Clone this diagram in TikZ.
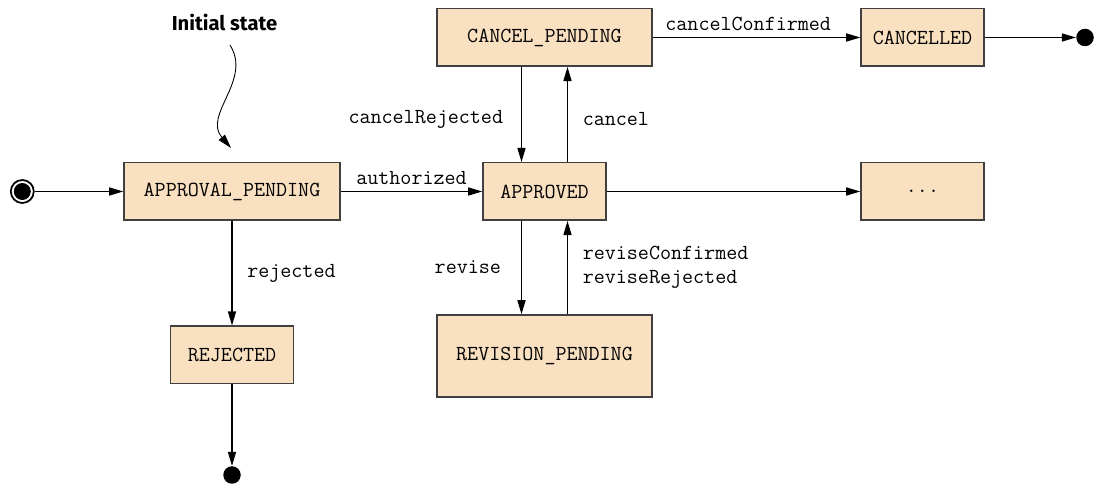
\documentclass[tikz,border=0pt]{standalone}
\usepackage{fontspec}
\usepackage{tikz}
\usetikzlibrary{arrows.meta}
\newfontfamily\notefont{Fira Sans}
\definecolor{statefill}{RGB}{249,224,192}
\definecolor{stateline}{RGB}{64,64,64}

\begin{document}
\begin{tikzpicture}[scale=1.0, font=\ttfamily\fontsize{12.2}{13.7}\selectfont,
    state/.style={draw=stateline, fill=statefill, line width=0.85pt,
      minimum height=1.15cm, inner sep=0pt},
    trans/.style={-{Triangle[length=8pt,width=4.6pt]}, line width=0.7pt},
    final/.style={circle, fill=black, minimum size=0.35cm, inner sep=0pt}]
  \useasboundingbox (0,0) rectangle (21.9,9.7);

  % pseudo states
  \node[circle, draw, line width=1pt, minimum size=0.46cm, inner sep=0pt] (start) at (0.446,5.87) {};
  \fill (start.center) circle (0.17);
  \node[final] (endrej) at (4.64,0.2) {};
  \node[final] (endcan) at (21.7,8.95) {};

  % states
  \node[state, minimum width=4.32cm] (apppend) at (4.64,5.87) {APPROVAL\_PENDING};
  \node[state, minimum width=2.46cm] (rejected) at (4.64,2.6) {REJECTED};
  \node[state, minimum width=2.46cm] (approved) at (10.89,5.87) {APPROVED};
  \node[state, minimum width=4.30cm] (cancelpend) at (10.89,8.95) {CANCEL\_PENDING};
  \node[state, minimum width=4.30cm, minimum height=1.64cm] (revpend) at (10.89,2.58) {REVISION\_PENDING};
  \node[state, minimum width=2.46cm] (cancelled) at (18.45,8.95) {CANCELLED};
  \node[state, minimum width=2.46cm] (more) at (18.45,5.87) {...};

  % transitions
  \draw[trans] (start) -- (apppend);
  \draw[trans] (apppend) -- node[above] {authorized} (approved);
  \draw[trans] (apppend) -- node[right=5pt] {rejected} (rejected);
  \draw[trans] (rejected) -- (endrej);
  \draw[trans] ([xshift=-0.46cm]cancelpend.south) -- node[pos=0.55, left=6.8pt] {cancelRejected} ([xshift=-0.46cm]approved.north);
  \draw[trans] ([xshift=0.46cm]approved.north) -- node[pos=0.45, right=5pt] {cancel} ([xshift=0.46cm]cancelpend.south);
  \draw[trans] (cancelpend) -- node[pos=0.46, above] {cancelConfirmed} (cancelled);
  \draw[trans] (cancelled) -- (endcan);
  \draw[trans] (approved) -- (more);
  \draw[trans] ([xshift=-0.46cm]approved.south) -- node[left=8pt] {revise} ([xshift=-0.46cm]revpend.north);
  \draw[trans] ([xshift=0.46cm]revpend.north) -- node[right=5pt, align=left] {reviseConfirmed\\reviseRejected} ([xshift=0.46cm]approved.south);

  % note
  \node[font=\notefont\bfseries\fontsize{11.5}{13}\selectfont] (initnote) at (4.49,9.26) {Initial state};
  \coordinate (noteend) at (4.62,6.74);
  \draw[trans, line width=0.5pt, shorten <=0.2cm] (initnote.south) .. controls (5.05,8.1) and (4.05,7.4) .. (noteend);
\end{tikzpicture}
\end{document}
